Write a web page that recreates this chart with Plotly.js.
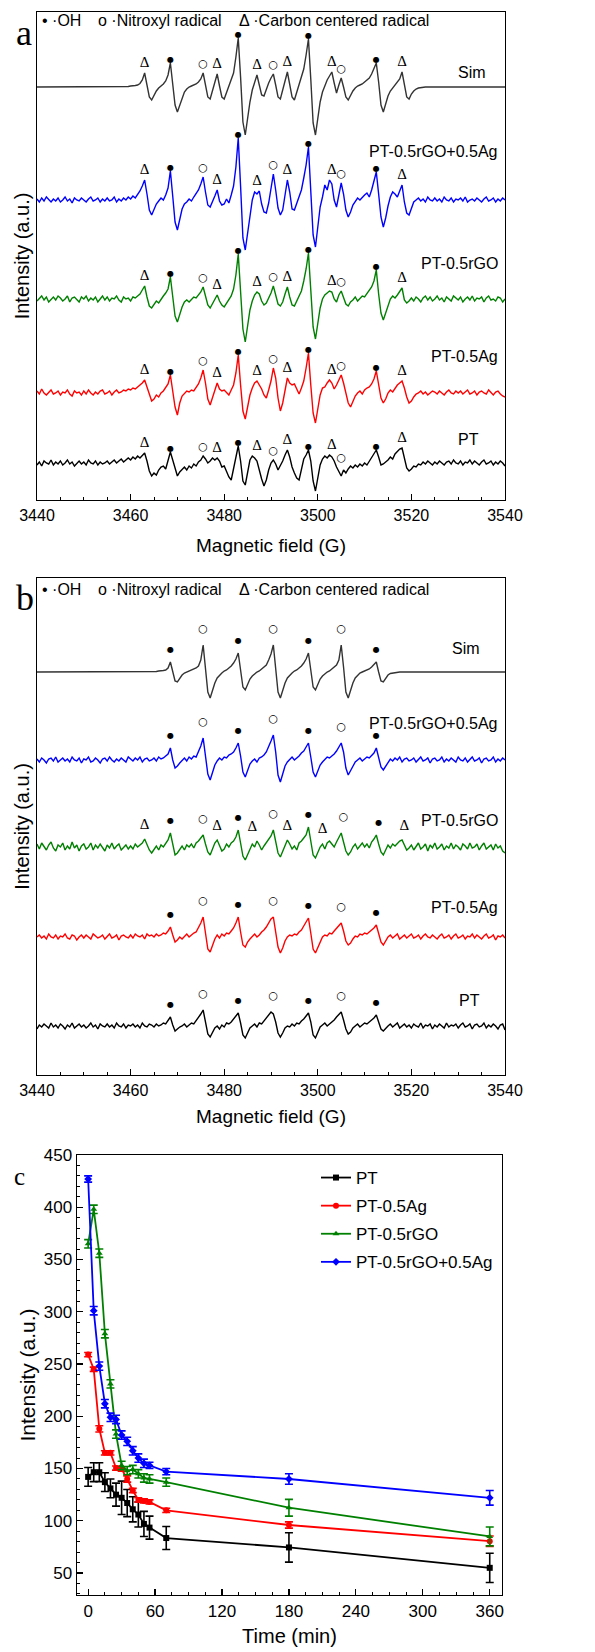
<!DOCTYPE html>
<html>
<head>
<meta charset="utf-8">
<script src="https://cdn.plot.ly/plotly-3.0.1.min.js"></script>
<style>html,body{margin:0;padding:0;background:#fff}#chart{width:595px;height:1652px}</style>
</head>
<body>
<div id="chart"></div>
<script>
// ---------- EPR spectra (panels a and b): field grid 3440 G, step 0.5 G ----------
const FIELD_START = 3440;
const FIELD_STEP = 0.5;
const SPECTRA_NAMES = ['Sim', 'PT-0.5rGO+0.5Ag', 'PT-0.5rGO', 'PT-0.5Ag', 'PT'];

const A_SIM = [
0,0,0,0,0,0,0,0,0,0,
0,0,0,0,0,0,0,0,0,0,
0,0,0,0,0,0,0,0,0,0,
0,0,0,0,0,0,0,0,0.5,0.5,
1,1,1.5,2,3.5,7,14,2,-10,-13,
-8,-4,-1,1,3,6,12,24,5,-18,
-25,-18,-10,-5,-2,0,1,2,3,5,
8,14,2,-10,-12,-4,5,13,1,-10,
-12,-6,0,6,14,30,49,10,-35,-48,
-30,-15,-3,5,12,2,-8,-9,-2,4,
9,13,2,-10,-12,-4,6,15,3,-10,
-13,-5,2,9,18,32,48,8,-36,-48,
-30,-15,-5,2,7,11,15,4,-6,2,
9,0,-10,-13,-8,-4,-1,1,2,3,
5,7,9,13,18,24,5,-18,-25,-17,
-9,-4,-1,1,4,8,15,2,-10,-12,
-7,-4,-2,-1,-0.5,0,0,0,0,0,
0,0,0,0,0,0,0,0,0,0,
0,0,0,0,0,0,0,0,0,0,
0,0,0,0,0,0,0,0,0,0,
0];
const A_RGO_AG = [
1,-2,2,-1,3,0,-2,1,-1,2,
-2,0,3,-1,1,-3,2,0,-1,2,
0,-2,1,3,-1,0,2,-2,1,-1,
2,-1,0,3,-2,1,-1,2,0,3,
1,4,2,5,9,14,20,6,-10,-15,
-9,-4,-1,2,0,5,12,29,4,-22,
-30,-20,-9,-4,-2,1,-1,3,6,10,
16,23,8,-5,-7,-2,4,10,-1,-5,
-4,1,-3,5,14,33,62,14,-38,-50,
-32,-13,0,8,6,9,-4,-12,-13,-3,
12,26,10,-8,-15,-10,5,20,8,-9,
-10,-3,4,10,22,35,53,10,-35,-47,
-25,-7,3,15,10,20,16,0,-7,5,
17,6,-10,-17,-12,-5,-1,2,0,3,
5,7,3,10,18,28,6,-17,-27,-18,
-6,3,8,6,3,10,15,-2,-13,-15,
-8,-2,0,2,-1,1,-2,3,0,-1,
2,-1,1,-2,3,0,-1,2,-2,1,
0,2,-1,3,-2,0,1,-1,2,0,
-2,1,3,-1,0,2,-2,1,-1,2,
0];
const A_RGO = [
-2,1,3,-1,2,-3,0,2,-1,3,
1,-2,0,3,-3,1,2,-1,-3,2,
0,3,-2,1,-1,2,-3,0,3,-1,
2,-2,1,0,3,-1,-3,2,0,1,
-2,2,1,3,5,9,13,2,-7,-9,
-6,-2,-4,0,3,6,10,22,3,-17,
-23,-15,-8,-3,-1,-3,0,2,1,4,
7,12,4,-6,-9,-5,-1,4,-2,-6,
-8,-4,-1,3,10,24,45,8,-30,-43,
-28,-11,-2,4,7,5,-2,-6,-4,1,
6,13,3,-5,-7,-3,5,12,2,-6,
-7,-2,3,8,18,30,46,6,-28,-40,
-25,-9,0,4,6,8,7,0,-3,4,
8,1,-5,-7,-3,-1,2,-2,1,3,
2,5,8,12,18,29,5,-14,-21,-14,
-5,0,3,1,4,7,11,-1,-4,-2,
1,-2,2,0,-3,1,3,-1,2,-2,
0,3,-1,1,-3,2,0,-2,3,1,
-1,2,-3,0,2,-1,3,-2,1,0,
2,-3,1,3,-1,0,-2,2,1,-3,
0];
const A_AG = [
2,-1,4,0,-2,1,3,-1,0,2,
-2,1,0,3,-1,-3,2,0,1,-2,
2,-1,3,0,-2,1,-1,2,3,-1,
0,2,-2,1,3,0,1,3,2,4,
3,5,4,6,8,10,13,6,-2,-8,
-6,-2,-4,0,2,5,9,18,4,-14,
-22,-10,-3,0,2,1,3,2,5,9,
15,23,10,-6,-12,-4,3,10,4,2,
3,0,-2,3,8,20,38,8,-18,-26,
-12,-2,5,10,12,8,4,-2,-5,3,
12,25,15,-5,-18,-10,3,15,10,8,
9,4,-1,5,12,25,40,8,-20,-30,
-14,-2,5,6,10,13,10,4,8,14,
18,10,0,-10,-14,-8,-3,0,2,-1,
3,5,6,9,14,22,8,-5,-10,-6,
0,3,1,5,8,10,12,5,-4,-10,
-8,-4,-1,0,2,-1,1,-2,0,2,
1,-1,2,0,-2,1,3,0,-1,2,
0,2,-1,1,3,-1,0,2,-2,1,
2,0,-1,3,0,-2,1,2,-1,-3,
-4];
const A_PT = [
-2,1,-3,2,0,-1,3,-2,1,-1,
2,-2,0,3,-1,1,-3,0,2,-1,
1,-2,3,0,-1,2,-2,1,-1,0,
2,-1,1,3,0,2,4,1,3,5,
3,6,4,7,5,8,10,2,-8,-13,
-10,-12,-7,-4,-3,-6,2,11,3,-6,
-13,-9,-6,-4,-7,-3,-5,-1,-3,1,
3,7,4,0,2,5,3,5,2,-4,
-3,-9,-14,-17,-5,8,17,2,-18,-22,
-8,3,7,5,2,-8,-16,-23,-17,-7,
0,3,-1,-7,-3,2,8,13,6,-4,
-10,-15,-17,-6,4,8,13,2,-18,-28,
-15,-2,4,7,5,8,6,2,-4,-9,
-13,-7,-10,-6,-3,-5,-2,-4,-1,-3,
0,-2,2,5,9,13,6,-2,-1,1,
3,6,4,9,12,14,15,5,-5,-8,
-6,-3,-4,-1,-2,1,-1,2,0,-2,
1,-1,2,0,-2,1,2,-1,3,0,
-1,2,-2,1,0,3,-1,2,0,-2,
1,3,-1,0,2,-2,1,-1,2,0,
-3];

const B_SIM = [
0,0,0,0,0,0,0,0,0,0,
0,0,0,0,0,0,0,0,0,0,
0,0,0,0,0,0,0,0,0,0,
0,0,0,0,0,0,0,0,0,0,
0,0,0,0,0,0,0,0,0,0.5,
0.5,0.5,1,1,1.5,2,4,10,0,-9,
-10,-6,-3,-1,0,1,2,3,4,6,
12,27,5,-20,-26,-18,-11,-6,-3,-1,
1,2,4,6,9,13,19,3,-15,-18,
-12,-7,-4,-2,0,1,3,5,7,12,
18,27,5,-20,-26,-18,-11,-6,-3,-1,
1,2,4,6,9,13,19,3,-15,-18,
-12,-7,-4,-2,0,1,3,5,7,12,
27,5,-20,-26,-18,-11,-6,-3,-1,0,
1,2,3,5,8,10,0,-9,-10,-6,
-3,-1.5,-1,-0.5,0,0,0,0,0,0,
0,0,0,0,0,0,0,0,0,0,
0,0,0,0,0,0,0,0,0,0,
0,0,0,0,0,0,0,0,0,0,
0,0,0,0,0,0,0,0,0,0,
0];
const B_RGO_AG = [
1,-2,2,0,-3,1,2,-1,3,-2,
0,2,-1,1,-2,3,0,-1,2,-3,
1,0,3,-2,-1,2,0,-3,1,2,
-1,3,0,-2,1,-1,2,0,-2,3,
1,-1,2,0,3,-2,1,2,-1,0,
2,-1,3,1,2,4,6,12,0,-8,
-6,-3,0,2,-1,3,1,4,3,8,
14,22,6,-14,-20,-12,-5,-1,2,0,
3,2,5,6,8,12,17,4,-12,-17,
-10,-4,-1,1,-2,2,3,5,8,13,
19,25,8,-15,-22,-14,-6,-2,1,3,
0,2,4,7,9,13,17,3,-12,-17,
-11,-5,-2,1,3,2,4,6,9,13,
17,8,-8,-15,-11,-6,-2,0,2,-1,
1,3,2,5,7,12,2,-7,-10,-6,
-2,1,-1,2,0,3,-2,1,2,-1,
0,2,-2,1,3,-1,0,2,-3,1,
2,-1,0,3,-2,1,-1,2,0,-2,
3,0,-1,2,-2,1,3,-1,0,2,
-3,1,2,-1,0,3,-2,1,-1,2,
0];
const B_RGO = [
3,-2,4,0,-3,2,5,-1,-4,2,
0,4,-3,1,-2,5,-1,2,-4,1,
3,-2,0,4,-3,2,-1,3,0,-4,
2,-1,4,-2,1,3,-3,0,2,-2,
1,-2,3,0,2,4,8,3,-3,-6,
-2,1,-3,2,0,4,7,14,3,-8,
-6,-2,1,-3,2,0,3,-1,4,6,
9,12,3,-5,-8,-2,4,7,2,-4,
-2,3,0,4,6,10,17,5,-9,-13,
-7,-1,3,0,6,2,-3,1,4,8,
11,17,6,-6,-10,-4,2,7,3,-2,
1,-3,4,6,9,12,20,6,-8,-11,
-6,0,3,-2,4,6,3,0,5,9,
14,5,-4,-8,-5,0,3,-2,1,4,
0,3,-1,5,8,12,3,-5,-8,-3,
2,-1,3,1,4,6,7,1,-3,-1,
2,-3,1,4,-2,0,3,-4,2,-1,
4,-2,0,3,-3,1,-1,4,-2,2,
0,-3,3,1,-2,4,-1,0,3,-3,
1,4,-2,0,2,-3,3,-1,1,-4,
-6];
const B_AG = [
0,2,-1,1,-2,3,0,-1,2,-2,
1,0,3,-1,-2,2,1,-3,0,2,
-1,2,0,-2,3,1,-1,0,2,-2,
1,3,-1,0,2,-3,1,2,0,-1,
2,-1,3,1,0,2,-2,3,1,2,
0,3,1,2,4,3,6,10,2,-5,
-3,0,-2,1,3,0,2,4,5,9,
14,20,5,-12,-15,-8,-2,2,-1,3,
1,4,3,6,9,14,20,5,-8,-10,
-5,-2,1,3,0,2,5,7,10,14,
18,20,6,-10,-16,-11,-4,0,2,1,
3,2,5,7,11,15,19,4,-12,-16,
-10,-4,0,2,1,4,3,6,9,12,
14,6,-4,-8,-6,-2,1,0,3,2,
4,3,5,7,9,12,3,-5,-8,-4,
0,2,-1,1,3,-2,0,2,-1,1,
3,-1,0,2,-2,1,3,0,-1,2,
0,-2,1,3,-1,0,2,-2,1,3,
-1,0,2,-2,1,0,3,-1,2,0,
-2,1,3,-1,0,2,-3,1,0,2,
-1];
const B_PT = [
-3,1,-1,2,0,-2,3,-1,1,-2,
2,0,-3,1,-1,3,-2,0,2,-1,
1,-2,0,3,-1,1,-3,2,0,-1,
2,-1,1,-2,3,0,-1,2,-2,1,
0,2,-1,1,-2,3,0,-1,2,1,
-1,2,0,1,3,2,5,9,1,-5,
-3,-1,0,2,-1,1,3,2,5,8,
12,16,4,-8,-11,-6,-2,0,-3,1,
-1,3,2,4,7,10,13,3,-9,-12,
-6,-2,0,2,-1,3,2,5,8,11,
14,12,4,-7,-11,-7,-2,0,-1,2,
0,3,2,5,7,10,13,4,-9,-12,
-6,-1,1,3,0,2,4,6,9,12,
14,6,-3,-8,-6,-2,0,2,-1,1,
3,2,4,6,8,11,4,-3,-5,-2,
0,2,-1,1,3,-2,0,2,-1,1,
-2,2,0,-1,3,-2,1,0,2,-3,
1,-1,2,0,-2,3,-1,1,0,2,
-2,1,3,-1,0,2,-3,1,2,-1,
0,3,-2,1,-1,2,0,-3,1,2,
-4];

// peak assignments (field in G, radical kind)
const PEAK_FIELDS_A = [3463,3468.5,3475.5,3478.5,3483,3487,3490.5,3493.5,3498,3503,3505,3512.5,3518];
const PEAK_KINDS_A  = ['C','OH','N','C','OH','C','N','C','OH','C','N','OH','C'];
const PEAK_FIELDS_B = [3468.5,3475.5,3483,3490.5,3498,3505,3512.5];
const PEAK_KINDS_B  = ['OH','N','OH','N','OH','N','OH'];
const PEAK_FIELDS_B_RGO = [3463,3468.5,3475.5,3478.5,3483,3486,3490.5,3493.5,3498,3501,3505.5,3513,3518.5];
const PEAK_KINDS_B_RGO  = ['C','OH','N','C','OH','C','N','C','OH','C','N','OH','C'];

// ---------- Panel c: intensity vs time ----------
const TIME_MIN = [0,5,10,15,20,25,30,35,40,45,50,55,70,180,360];
const C_NAMES = ['PT','PT-0.5Ag','PT-0.5rGO','PT-0.5rGO+0.5Ag'];
const C_PT       = [142,146.5,146.5,137,131,125,122,117,111,106,97,93.5,83.5,74.5,55];
const C_PT_ERR   = [9,9,9,9,9,11,16,13,12,12,12,11,11,14,14];
const C_AG       = [259,245,188,165,165,150.5,149.5,140,129,120,119,118,110,96,80.5];
const C_AG_ERR   = [2,2,3,2,2,2,2,3,2,2,2,2,2,3,5];
const C_RGO      = [365,398,356,279,231,183,153,148,149,145,141,140,137,112.5,85];
const C_RGO_ERR  = [4,4,4,4,4,4,4,4,4,4,4,4,4,8,9];
const C_RGOAG    = [427,301,248,212,199,197,182,176,167,160,155,153,147,140,122];
const C_RGOAG_ERR= [3,4,4,4,4,4,4,4,4,4,4,3,3,5,7];

// ---------- styling / layout helpers ----------
const W = 595, H = 1652;
const px = v => v / W;
const py = v => 1 - v / H;
const SANS = 'Liberation Sans, Arial, sans-serif';
const SERIF = 'Liberation Serif, Times New Roman, serif';
const COLORS = ['#333333', '#0000ff', '#008000', '#ff0000', '#000000'];
const OFF_A = [413, 300, 201, 107, 37];
const OFF_B = [403, 315, 228, 138, 49];

const SPECTRA_A = [A_SIM, A_RGO_AG, A_RGO, A_AG, A_PT];
const SPECTRA_B = [B_SIM, B_RGO_AG, B_RGO, B_AG, B_PT];

const GLYPH = {OH: '●', N: '○', C: 'Δ'};
const GLYPH_SIZE = {OH: 8, N: 11, C: 15};
const GLYPH_FONT = {OH: 'DejaVu Sans', N: 'DejaVu Sans', C: 'Liberation Serif'};

function specTrace(vals, off, color, xa, ya, name) {
  return {type: 'scatter', mode: 'lines', name: name, x0: FIELD_START, dx: FIELD_STEP,
    y: vals.map(v => v + off), xaxis: xa, yaxis: ya,
    line: {color: color, width: 1.4}, showlegend: false, hoverinfo: 'skip'};
}
function markTrace(sets, xa, ya, gaps) {
  const x = [], y = [], t = [], sz = [], fam = [];
  sets.forEach(s => {
    s.fields.forEach((f, k) => {
      const i = Math.round((f - FIELD_START) / FIELD_STEP);
      let m = -Infinity;
      for (let j = i - 2; j <= i + 2; j++) if (j >= 0 && j < s.vals.length) m = Math.max(m, s.vals[j]);
      const kind = s.kinds[k];
      x.push(f); y.push(s.off + m + gaps[kind]);
      t.push(GLYPH[kind]); sz.push(GLYPH_SIZE[kind]); fam.push(GLYPH_FONT[kind]);
    });
  });
  return {type: 'scatter', mode: 'text', x: x, y: y, text: t, textposition: 'middle center',
    textfont: {size: sz, family: fam, color: '#000'}, xaxis: xa, yaxis: ya,
    showlegend: false, hoverinfo: 'skip', cliponaxis: false};
}

const traces = [];
SPECTRA_A.forEach((v, k) => traces.push(specTrace(v, OFF_A[k], COLORS[k], 'x', 'y', SPECTRA_NAMES[k])));
SPECTRA_B.forEach((v, k) => traces.push(specTrace(v, OFF_B[k], COLORS[k], 'x2', 'y2', SPECTRA_NAMES[k])));

traces.push(markTrace(SPECTRA_A.map((v, k) => ({vals: v, off: OFF_A[k], fields: PEAK_FIELDS_A, kinds: PEAK_KINDS_A})),
  'x', 'y', {OH: 3, N: 9, C: 10}));
traces.push(markTrace(SPECTRA_B.map((v, k) => ({vals: v, off: OFF_B[k],
    fields: k === 2 ? PEAK_FIELDS_B_RGO : PEAK_FIELDS_B, kinds: k === 2 ? PEAK_KINDS_B_RGO : PEAK_KINDS_B})),
  'x2', 'y2', {OH: 12, N: 16, C: 14}));

const C_SERIES = [
  {y: C_PT, e: C_PT_ERR, color: '#000000', sym: 'square'},
  {y: C_AG, e: C_AG_ERR, color: '#ff0000', sym: 'circle'},
  {y: C_RGO, e: C_RGO_ERR, color: '#008000', sym: 'triangle-up'},
  {y: C_RGOAG, e: C_RGOAG_ERR, color: '#0000ff', sym: 'diamond'}
];
C_SERIES.forEach((s, k) => traces.push({
  type: 'scatter', mode: 'lines+markers', name: C_NAMES[k], legendgroup: 'g' + k, x: TIME_MIN, y: s.y,
  xaxis: 'x3', yaxis: 'y3', line: {color: s.color, width: 1.8},
  marker: {symbol: s.sym, size: 6, color: s.color},
  error_y: {type: 'data', array: s.e, visible: true, color: s.color, thickness: 1.6, width: 4},
  hoverinfo: 'skip'
}));

function fieldAxis(anchor, titleStandoff) {
  return {domain: [px(37), px(505)], anchor: anchor, range: [3440, 3540], tick0: 3440, dtick: 20,
    ticks: 'inside', ticklen: 6, tickwidth: 1.2, tickcolor: '#000',
    minor: {dtick: 5, ticks: 'inside', ticklen: 3, tickwidth: 1, tickcolor: '#000'},
    showline: true, mirror: true, linecolor: '#000', linewidth: 1.3, showgrid: false, zeroline: false,
    tickfont: {size: 16, family: SANS, color: '#000'},
    title: {text: 'Magnetic field (G)', font: {size: 19, family: SANS, color: '#000'}, standoff: titleStandoff}};
}
function intensAxis(domainY, anchor, top) {
  return {domain: domainY, anchor: anchor, range: [0, top], showticklabels: false, ticks: '',
    showline: true, mirror: true, linecolor: '#000', linewidth: 1.3, showgrid: false, zeroline: false,
    title: {text: 'Intensity (a.u.)', font: {size: 20, family: SANS, color: '#000'}, standoff: 0}};
}

const annotations = [];
function ann(text, x, y, opts) {
  annotations.push(Object.assign({text: text, x: px(x), y: py(y), xref: 'paper', yref: 'paper',
    showarrow: false, xanchor: 'left', yanchor: 'middle', font: {size: 16, family: SANS, color: '#000'}}, opts || {}));
}
// panel letters
ann('a', 14, 33, {font: {size: 36, family: SERIF, color: '#000'}});
ann('b', 14, 598, {font: {size: 36, family: SERIF, color: '#000'}});
ann('c', 12, 1176, {font: {size: 25, family: SERIF, color: '#000'}});
// radical keys
[21, 589].forEach(yy => {
  ann('• ·OH', 40, yy);
  ann('o ·Nitroxyl radical', 96, yy);
  ann('Δ ·Carbon centered radical', 237, yy);
});
// spectrum labels
const LABEL_A = [[488, 72], [500, 152], [500, 263], [500, 357], [481, 439]];
const LABEL_B = [[482, 649], [500, 723], [500, 820], [500, 908], [482, 1000]];
SPECTRA_NAMES.forEach((n, k) => {
  ann(n, LABEL_A[k][0], LABEL_A[k][1], {xanchor: 'right'});
  ann(n, LABEL_B[k][0], LABEL_B[k][1], {xanchor: 'right'});
});

const layout = {
  width: W, height: H, margin: {l: 0, r: 0, t: 0, b: 0},
  paper_bgcolor: '#ffffff', plot_bgcolor: '#ffffff',
  font: {family: SANS, color: '#000'},
  showlegend: true,
  xaxis: fieldAxis('y', 16),
  yaxis: intensAxis([py(500), py(12)], 'x', 488),
  xaxis2: fieldAxis('y2', 12),
  yaxis2: intensAxis([py(1075), py(578)], 'x2', 497),
  xaxis3: {domain: [px(77), px(502)], anchor: 'y3', range: [-10, 371], tick0: 0, dtick: 60,
    ticks: 'inside', ticklen: 6, tickwidth: 1.2, tickcolor: '#000',
    minor: {dtick: 15, ticks: 'inside', ticklen: 3, tickwidth: 1, tickcolor: '#000'},
    showline: true, mirror: true, linecolor: '#000', linewidth: 1.4, showgrid: false, zeroline: false,
    tickfont: {size: 17, family: SANS, color: '#000'},
    title: {text: 'Time (min)', font: {size: 20, family: SANS, color: '#000'}, standoff: 9}},
  yaxis3: {domain: [py(1595), py(1155)], anchor: 'x3', range: [29, 450], tick0: 0, dtick: 50,
    ticks: 'inside', ticklen: 6, tickwidth: 1.2, tickcolor: '#000',
    minor: {dtick: 10, ticks: 'inside', ticklen: 3, tickwidth: 1, tickcolor: '#000'},
    showline: true, mirror: true, linecolor: '#000', linewidth: 1.4, showgrid: false, zeroline: false,
    tickfont: {size: 17, family: SANS, color: '#000'},
    title: {text: 'Intensity (a.u.)', font: {size: 21, family: SANS, color: '#000'}, standoff: 2}},
  legend: {x: px(316), y: py(1160), xanchor: 'left', yanchor: 'top', bgcolor: 'rgba(0,0,0,0)',
    tracegroupgap: 3, font: {size: 17, family: SANS, color: '#000'}},
  annotations: annotations
};

Plotly.newPlot('chart', traces, layout, {displayModeBar: false, staticPlot: true});
</script>
</body>
</html>
